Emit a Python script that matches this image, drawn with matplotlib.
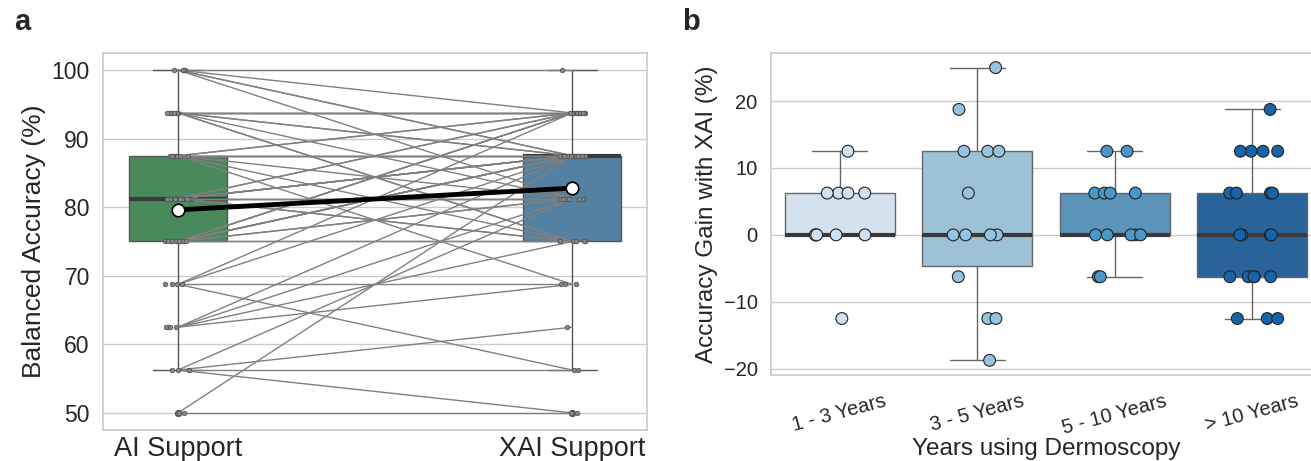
import numpy as np
import pandas as pd
import seaborn as sns
import matplotlib.pyplot as plt

# panel a: paired balanced accuracy per participant (%)
conditions = ["AI Support", "XAI Support"]
ai_acc = [50, 50,
          56.25, 56.25, 56.25, 56.25,
          62.5, 62.5, 62.5, 62.5,
          68.75, 68.75, 68.75, 68.75,
          75, 75, 75, 75, 75, 75, 75, 75, 75, 75, 75, 75,
          81.25, 81.25, 81.25, 81.25, 81.25, 81.25, 81.25, 81.25, 81.25, 81.25, 81.25, 81.25,
          87.5, 87.5, 87.5, 87.5, 87.5, 87.5, 87.5, 87.5, 87.5,
          93.75, 93.75, 93.75, 93.75, 93.75, 93.75, 93.75, 93.75, 93.75,
          100, 100, 100, 100, 100]
xai_acc = [50, 87.5,
           56.25, 62.5, 50, 81.25,
           68.75, 75, 81.25, 87.5,
           68.75, 56.25, 87.5, 93.75,
           75, 75, 81.25, 81.25, 87.5, 87.5, 87.5, 87.5, 87.5, 93.75, 93.75, 93.75,
           81.25, 81.25, 87.5, 87.5, 87.5, 87.5, 93.75, 93.75, 75, 75, 81.25, 87.5,
           87.5, 87.5, 87.5, 93.75, 93.75, 81.25, 75, 68.75, 87.5,
           93.75, 93.75, 93.75, 87.5, 87.5, 81.25, 75, 93.75, 75,
           100, 93.75, 87.5, 87.5, 81.25]

# panel b: accuracy gain with XAI by years of dermoscopy experience
groups = ["1 - 3 Years", "3 - 5 Years", "5 - 10 Years", "> 10 Years"]
gain_1_3 = [12.5, 6.25, 6.25, 6.25, 6.25, 0, 0, 0, 0, 0, -12.5]
gain_3_5 = [25, 18.75, 12.5, 12.5, 12.5, 6.25, 0, 0, 0, 0, -6.25, -12.5, -12.5, -18.75]
gain_5_10 = [12.5, 12.5, 6.25, 6.25, 6.25, 6.25, 0, 0, 0, 0, 0, -6.25, -6.25]
gain_10_plus = [18.75, 12.5, 12.5, 12.5, 12.5, 6.25, 6.25, 6.25, 6.25, 0, 0, 0, 0,
                -6.25, -6.25, -6.25, -6.25, -6.25, -12.5, -12.5, -12.5]

sns.set_theme(style="whitegrid")
plt.rcParams['font.family'] = ['Liberation Sans', 'DejaVu Sans']
np.random.seed(3)

fig = plt.figure(figsize=(13.11, 4.61), dpi=100)
ax1 = fig.add_axes([0.0786, 0.0672, 0.415, 0.818])
ax2 = fig.add_axes([0.588, 0.1866, 0.4195, 0.6985])

# ---- panel a
df_a = pd.DataFrame({"cond": [conditions[0]] * len(ai_acc) + [conditions[1]] * len(xai_acc),
                     "acc": ai_acc + xai_acc})
sns.boxplot(data=df_a, x="cond", y="acc", hue="cond", palette=["#488a5c", "#5480a2"],
            saturation=1, width=0.25, linewidth=1, linecolor="#555555", legend=False,
            medianprops=dict(linewidth=3, color="#3a3a3a"),
            flierprops=dict(marker="o", markersize=4, markerfacecolor="none",
                            markeredgecolor="#555555"),
            ax=ax1)
for a, x in zip(ai_acc, xai_acc):
    ax1.plot([0, 1], [a, x], color="gray", lw=1, zorder=3)
sns.stripplot(data=df_a, x="cond", y="acc", color="#888888", edgecolor="#555555",
              linewidth=0.6, size=3.2, jitter=0.035, ax=ax1, zorder=4)
ax1.plot([0, 1], [np.mean(ai_acc), np.mean(xai_acc)], color="black", lw=3.5,
         marker="o", markersize=9, markerfacecolor="white", markeredgecolor="black",
         markeredgewidth=1.2, zorder=6)
ax1.set_xlim(-0.19, 1.19)
ax1.set_ylim(47.5, 102.5)
ax1.set_yticks([50, 60, 70, 80, 90, 100])
ax1.set_xlabel("")
ax1.set_ylabel("Balanced Accuracy (%)", fontsize=19)
ax1.tick_params(axis="x", labelsize=19.5, length=0, pad=4)
ax1.tick_params(axis="y", labelsize=16.5)

# ---- panel b
df_b = pd.DataFrame({
    "group": [groups[0]] * len(gain_1_3) + [groups[1]] * len(gain_3_5)
             + [groups[2]] * len(gain_5_10) + [groups[3]] * len(gain_10_plus),
    "gain": gain_1_3 + gain_3_5 + gain_5_10 + gain_10_plus})
sns.boxplot(data=df_b, x="group", y="gain", hue="group", palette="Blues",
            linewidth=1, linecolor="#666666", legend=False,
            medianprops=dict(linewidth=3, color="#3a3a3a"),
            flierprops=dict(marker="o", markersize=4, markerfacecolor="none",
                            markeredgecolor="#666666"),
            ax=ax2)
sns.stripplot(data=df_b, x="group", y="gain", hue="group", palette="Blues",
              edgecolor="#222222", linewidth=0.8, size=8.5, jitter=0.2,
              legend=False, ax=ax2, zorder=4)
ax2.set_xlabel("Years using Dermoscopy", fontsize=17.5, labelpad=0)
ax2.set_ylabel("Accuracy Gain with XAI (%)", fontsize=17.5)
ax2.tick_params(axis="y", labelsize=14.5)
ax2.tick_params(axis="x", labelsize=14.5, length=0, pad=12)
for lbl in ax2.get_xticklabels():
    lbl.set_rotation(15)

fig.text(0.011, 0.935, "a", fontsize=21, fontweight="bold")
fig.text(0.520, 0.935, "b", fontsize=21, fontweight="bold")

fig.savefig("out.png", dpi=100)
